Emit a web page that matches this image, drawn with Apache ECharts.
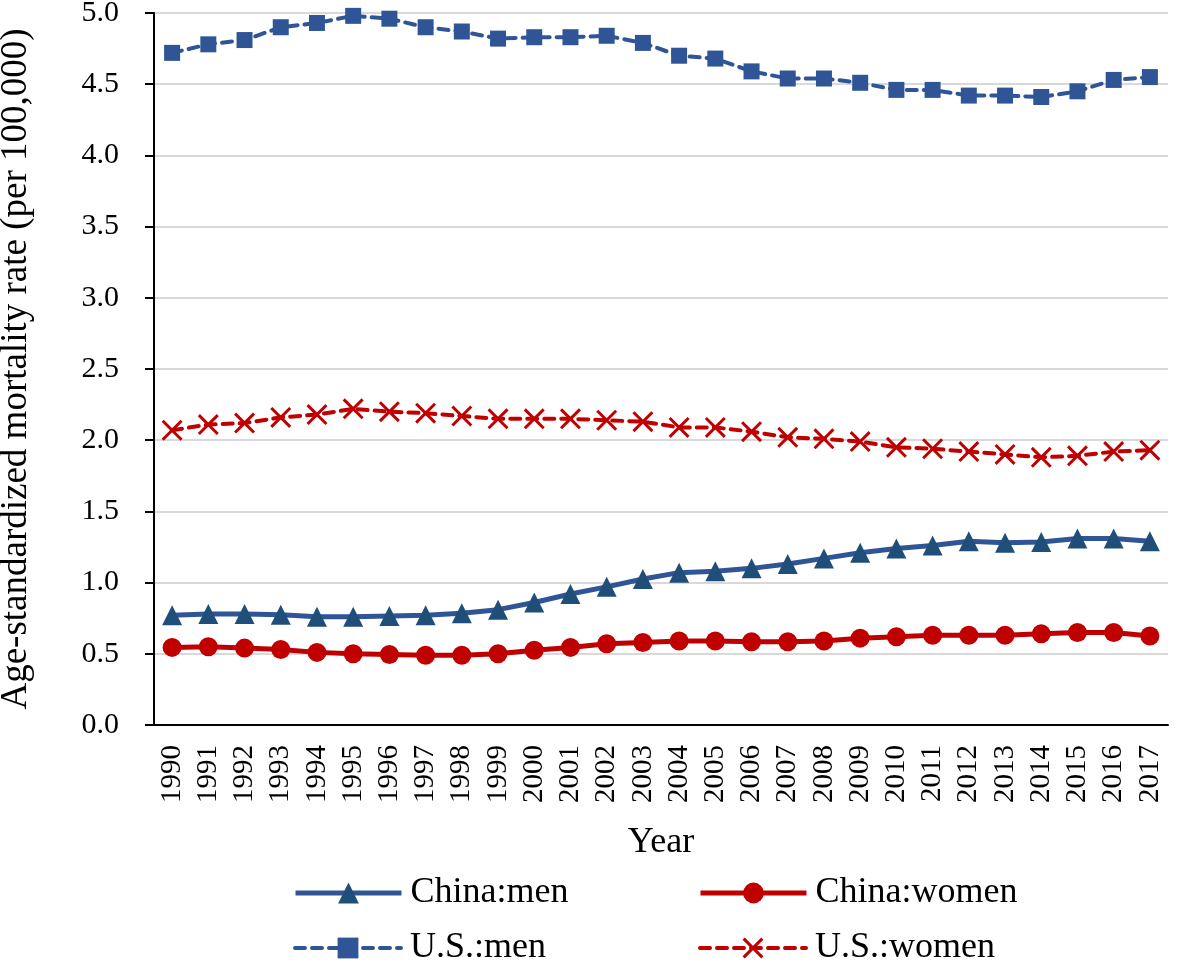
<!DOCTYPE html>
<html>
<head>
<meta charset="utf-8">
<script src="https://cdn.jsdelivr.net/npm/echarts@6/dist/echarts.min.js"></script>
<style>
  html, body { margin: 0; padding: 0; background: #fff; }
  #main { width: 1181px; height: 963px; }
</style>
</head>
<body>
<div id="main"></div>
<script>
var years = ['1990','1991','1992','1993','1994','1995','1996','1997','1998','1999',
  '2000','2001','2002','2003','2004','2005','2006','2007','2008','2009',
  '2010','2011','2012','2013','2014','2015','2016','2017'];

var chinaMen = [0.77, 0.78, 0.78, 0.775, 0.76, 0.76, 0.765, 0.77, 0.785, 0.81,
  0.86, 0.92, 0.97, 1.025, 1.07, 1.08, 1.10, 1.13, 1.17, 1.21,
  1.24, 1.26, 1.29, 1.28, 1.285, 1.31, 1.31, 1.29];

var chinaWomen = [0.545, 0.55, 0.54, 0.53, 0.51, 0.50, 0.495, 0.49, 0.49, 0.50,
  0.525, 0.545, 0.57, 0.58, 0.59, 0.59, 0.585, 0.585, 0.59, 0.61,
  0.62, 0.63, 0.63, 0.63, 0.64, 0.65, 0.65, 0.625];

var usMen = [4.72, 4.78, 4.81, 4.90, 4.93, 4.98, 4.96, 4.90, 4.87, 4.82,
  4.83, 4.83, 4.84, 4.79, 4.70, 4.68, 4.59, 4.54, 4.54, 4.51,
  4.46, 4.46, 4.42, 4.42, 4.41, 4.45, 4.53, 4.55];

var usWomen = [2.07, 2.11, 2.12, 2.16, 2.18, 2.22, 2.20, 2.19, 2.17, 2.15,
  2.15, 2.15, 2.14, 2.13, 2.09, 2.09, 2.06, 2.02, 2.01, 1.99,
  1.95, 1.94, 1.92, 1.90, 1.88, 1.89, 1.92, 1.93];

var yTicks = [0, 0.5, 1.0, 1.5, 2.0, 2.5, 3.0, 3.5, 4.0, 4.5, 5.0];

var blue = '#2F5597';
var darkBlue = '#1F4E79';
var red = '#C00000';
var font = 'Liberation Serif';
// X mark drawn as two crossed thin bars
var crossPath = 'path://M0,1 L1,0 L10,9 L9,10 Z M9,0 L10,1 L1,10 L0,9 Z';

function legendAt(name, left, top) {
  return {
    left: left,
    top: top,
    itemWidth: 106,
    itemHeight: 26,
    lineStyle: { width: 'inherit' },
    textStyle: { fontFamily: font, fontSize: 36, color: '#000', lineHeight: 40, padding: [0, 0, 0, 4] },
    data: [name]
  };
}

var myChart = echarts.init(document.getElementById('main'));
var option = {
  backgroundColor: '#fff',
  animation: false,
  textStyle: { fontFamily: font, color: '#000' },
  grid: { left: 154, right: 13, top: 13, bottom: 238, outerBoundsMode: 'none', containLabel: false },
  legend: [
    legendAt('China:men', 288, 868),
    legendAt('U.S.:men', 288, 923),
    legendAt('China:women', 693, 868),
    legendAt('U.S.:women', 693, 923)
  ],
  xAxis: {
    type: 'category',
    data: years,
    boundaryGap: true,
    name: 'Year',
    nameLocation: 'middle',
    nameGap: 100,
    nameTextStyle: { fontFamily: font, fontSize: 36, color: '#000' },
    axisLine: { lineStyle: { color: '#000', width: 2 } },
    axisTick: { alignWithLabel: true, length: 8, lineStyle: { color: '#000', width: 2 } },
    axisLabel: { rotate: 90, fontFamily: font, fontSize: 29, color: '#000', margin: 20, interval: 0 },
    splitLine: { show: false }
  },
  yAxis: {
    type: 'value',
    min: yTicks[0],
    max: yTicks[yTicks.length - 1],
    interval: 0.5,
    name: 'Age-standardized mortality rate (per 100,000)',
    nameLocation: 'middle',
    nameGap: 119,
    nameTextStyle: { fontFamily: font, fontSize: 37, color: '#000' },
    axisLine: { show: true, lineStyle: { color: '#000', width: 2 } },
    axisTick: { show: true, length: 9, lineStyle: { color: '#000', width: 2 } },
    axisLabel: {
      fontFamily: font, fontSize: 30, color: '#000', margin: 35,
      formatter: function (v) { return v.toFixed(1); }
    },
    splitLine: { lineStyle: { color: '#D9D9D9', width: 2 } }
  },
  series: [
    {
      name: 'China:men',
      type: 'line',
      data: chinaMen,
      symbol: 'triangle',
      symbolSize: 20,
      lineStyle: { color: blue, width: 5 },
      itemStyle: { color: darkBlue }
    },
    {
      name: 'China:women',
      type: 'line',
      data: chinaWomen,
      symbol: 'circle',
      symbolSize: 19,
      lineStyle: { color: red, width: 5 },
      itemStyle: { color: red }
    },
    {
      name: 'U.S.:men',
      type: 'line',
      data: usMen,
      symbol: 'rect',
      symbolSize: 16,
      lineStyle: { color: blue, width: 4, type: [10, 7], cap: 'round' },
      itemStyle: { color: blue }
    },
    {
      name: 'U.S.:women',
      type: 'line',
      data: usWomen,
      symbol: crossPath,
      symbolSize: 21,
      lineStyle: { color: red, width: 4, type: [10, 7], cap: 'round' },
      itemStyle: { color: red }
    }
  ]
};
myChart.setOption(option);
</script>
</body>
</html>
